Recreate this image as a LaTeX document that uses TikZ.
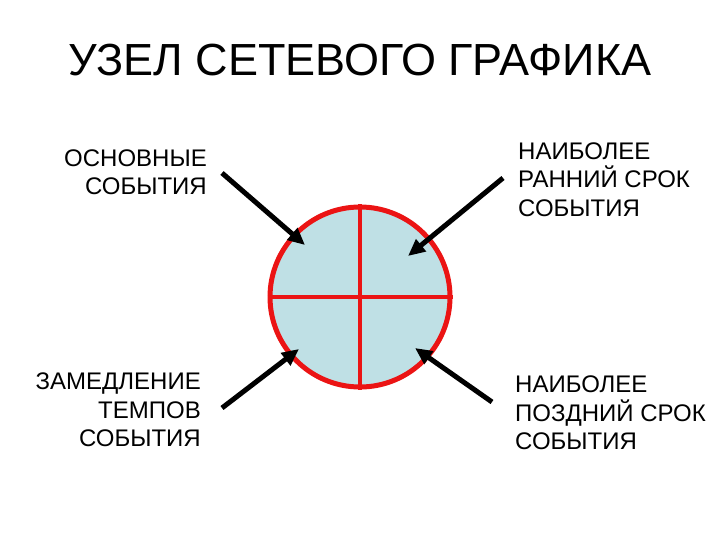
\documentclass[tikz,border=0pt]{standalone}
\usepackage{fontspec}
\setmainfont{Liberation Sans}
\usetikzlibrary{arrows.meta}
\definecolor{nodefill}{RGB}{191,224,229}
\definecolor{nodered}{RGB}{235,20,20}
\begin{document}
\begin{tikzpicture}[x=1pt,y=-1pt,
  lbl/.style={inner sep=0pt, font=\fontsize{24}{28.5}\selectfont},
  arr/.style={line width=5pt, -{Triangle[length=17pt,width=15pt]}, black}]
\useasboundingbox (0,0) rectangle (720,540);
\node[font=\fontsize{45}{52}\selectfont, anchor=base, inner sep=0pt] (title) at (360,75.5) {УЗЕЛ СЕТЕВОГО ГРАФИКА};
\node[circle, draw=nodered, line width=5pt, fill=nodefill, minimum size=180pt, inner sep=0pt] (c) at (360,297) {};
\draw[nodered, line width=4pt] (c.north) -- (c.south) (c.west) -- (c.east);
\node[lbl, align=right, anchor=north east] (l1) at (207,149.5) {ОСНОВНЫЕ\\СОБЫТИЯ};
\node[lbl, align=left, anchor=north west] (l2) at (518,142.5) {НАИБОЛЕЕ\\РАННИЙ СРОК\\СОБЫТИЯ};
\node[lbl, align=right, anchor=north east] (l3) at (201,373) {ЗАМЕДЛЕНИЕ\\ТЕМПОВ\\СОБЫТИЯ};
\node[lbl, align=left, anchor=north west] (l4) at (515,376) {НАИБОЛЕЕ\\ПОЗДНИЙ СРОК\\СОБЫТИЯ};
\coordinate (t1) at (222,173); \coordinate (h1) at (305,245);
\coordinate (t2) at (503,178); \coordinate (h2) at (408,256);
\coordinate (t3) at (222,408); \coordinate (h3) at (299,349);
\coordinate (t4) at (492,402); \coordinate (h4) at (415,348);
\draw[arr] (t1) -- (h1);
\draw[arr] (t2) -- (h2);
\draw[arr] (t3) -- (h3);
\draw[arr] (t4) -- (h4);
\end{tikzpicture}
\end{document}
